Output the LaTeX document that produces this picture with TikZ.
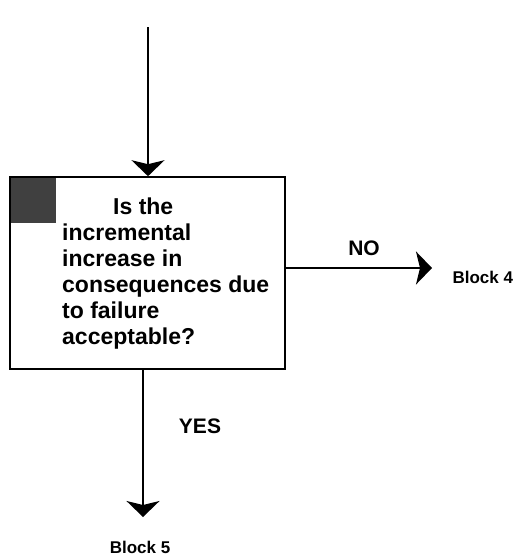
\documentclass[tikz,border=0pt]{standalone}
\usepackage{fontspec}
\setmainfont{Liberation Sans}
\usetikzlibrary{arrows.meta}

\begin{document}
\begin{tikzpicture}[x=1pt,y=-1pt,
	flow/.style={line width=1.8pt,-{Stealth[length=16pt,width=33pt,inset=4pt]}},
	lbl/.style={font=\bfseries\fontsize{21}{25}\selectfont},
	blk/.style={font=\bfseries\fontsize{17}{20}\selectfont}]
	  \useasboundingbox (0,0) rectangle (515,557);
	  \node[draw,line width=1.6pt,minimum width=275pt,minimum height=192pt] (q) at (147.5,273) {};
	  \node[fill=black!75,inner sep=0pt,minimum size=45pt,anchor=north west] (num) at ([xshift=2pt,yshift=-2pt]q.north west) {};
	  \node[anchor=north west,inner sep=0pt,align=left,font=\bfseries\fontsize{23}{26}\selectfont] (qtext) at (62,198)
		{\hspace*{51pt}Is the\\incremental\\increase in\\consequences due\\to failure\\acceptable?};

	  \coordinate (start) at (148,27);
	  \coordinate (no) at (432,268);
	  \coordinate (yes) at (143,517);
	  \draw[flow] (start) -- (start |- q.north);
	  \draw[flow] (q.east |- no) -- (no);
	  \draw[flow] (q.south -| yes) -- (yes);

	  \node[lbl] (nolbl) at (364,248) {NO};
	  \node[lbl] (yeslbl) at (200,426) {YES};
	  \node[blk,anchor=west] (b4) at (449,277) {Block 4};
	  \node[blk] (b5) at (140,547) {Block 5};
	\end{tikzpicture}
\end{document}
